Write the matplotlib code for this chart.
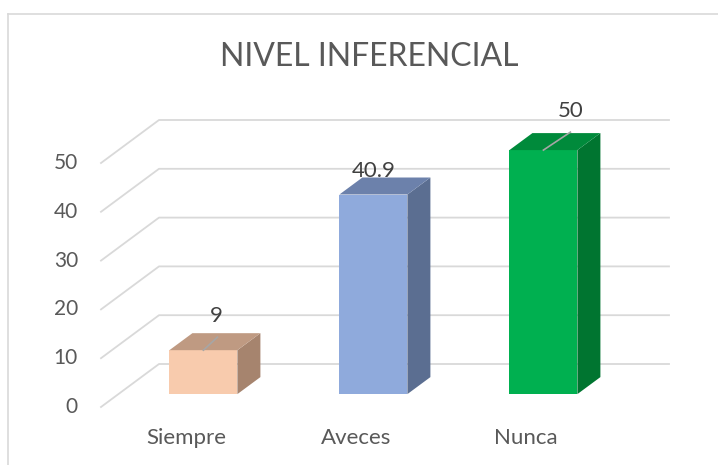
import numpy as np
import matplotlib.pyplot as plt
from matplotlib.patches import Polygon

# datos
categorias = ["Siempre", "Aveces", "Nunca"]
valores = [9, 40.9, 50]
etiquetas = ["9", "40.9", "50"]
ticks_y = [0, 10, 20, 30, 40, 50]

# estilo
frente = ["#f8cbad", "#8faadc", "#00b050"]
lado = ["#a6846e", "#5b6e91", "#007530"]
tapa = ["#bf9a82", "#6c81ab", "#008a3b"]
offs_label = [(13, 28), (0, 18), (27, 33)]   # px respecto a la tapa (linea base)
guias = [(14, 13), None, (27, 18)]           # lineas guia en px

plt.rcParams['font.family'] = ['Lato', 'DejaVu Sans']
fig = plt.figure(figsize=(7.18, 4.65), dpi=100)
W, H = 718, 465
ax = fig.add_axes([101 / W, 58 / H, 510 / W, 244 / H])
ax.set_xlim(-0.5, 2.5)
ax.set_ylim(0, 50)
ax.axis('off')

px_x = 510 / 3.0    # px por categoria
px_y = 244 / 50.0   # px por unidad
fx, fy = 58 / px_x, 43 / px_y   # profundidad total del piso
d0 = 0.3                          # posicion de la cara frontal de la barra
bdx, bdy = 23 / px_x, 17 / px_y   # profundidad de la barra
ancho = 68 / px_x

gris = "#d9d9d9"
for v in ticks_y:
    ax.plot([-0.5, -0.5 + fx, 2.5 + fx], [v, v + fy, v + fy], color=gris,
            lw=1.3, clip_on=False, zorder=1)
    ax.text(-0.5 - 23 / px_x, v, str(v), ha='right', va='center',
            fontsize=15, color="#595959")

for i, (cat, val) in enumerate(zip(categorias, valores)):
    x0 = i + d0 * fx - ancho / 2
    x1 = x0 + ancho
    y0 = d0 * fy
    y1 = y0 + val
    ax.add_patch(Polygon([(x0, y0), (x1, y0), (x1, y1), (x0, y1)],
                         closed=True, fc=frente[i], ec='none', clip_on=False, zorder=3))
    ax.add_patch(Polygon([(x1, y0), (x1 + bdx, y0 + bdy), (x1 + bdx, y1 + bdy), (x1, y1)],
                         closed=True, fc=lado[i], ec='none', clip_on=False, zorder=3))
    ax.add_patch(Polygon([(x0, y1), (x1, y1), (x1 + bdx, y1 + bdy), (x0 + bdx, y1 + bdy)],
                         closed=True, fc=tapa[i], ec='none', clip_on=False, zorder=3))
    ax.text(i, -31 / px_y, cat, ha='center', va='center', fontsize=16, color="#595959")
    # etiqueta con linea guia
    cx = (x0 + x1) / 2
    ox, oy = offs_label[i]
    ax.annotate(etiquetas[i], xy=(cx, y1), xytext=(ox, oy), textcoords='offset pixels',
                ha='center', va='baseline', fontsize=16, color="#404040", zorder=5,
                annotation_clip=False)
    if guias[i] is not None:
        gx, gy = guias[i]
        ax.plot([cx, cx + gx / px_x], [y1, y1 + gy / px_y],
                color="#a6a6a6", lw=1.2, clip_on=False, zorder=4)

fig.text(369.5 / W, 1 - 57 / H, "NIVEL INFERENCIAL", ha='center', va='center',
         fontsize=23, color="#595959")

# borde del area del grafico
fig.add_artist(plt.Line2D([8 / W, 1], [1 - 14 / H, 1 - 14 / H], color=gris, lw=1.2))
fig.add_artist(plt.Line2D([8 / W, 8 / W], [0, 1 - 14 / H], color=gris, lw=1.2))

fig.savefig("out.png", dpi=100)
